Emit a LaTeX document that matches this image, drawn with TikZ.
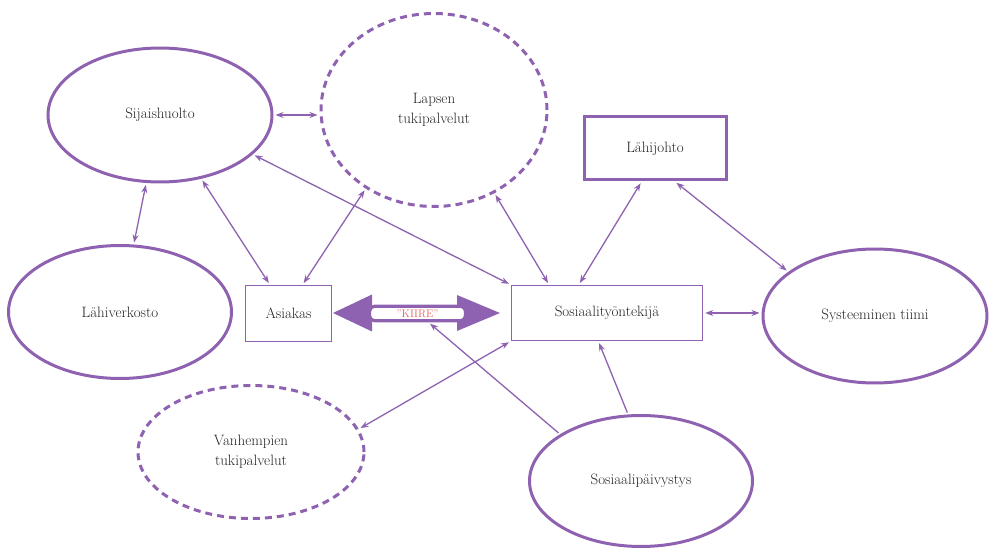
\documentclass[tikz,border=0pt]{standalone}
\usetikzlibrary{shapes.geometric,arrows.meta}
\definecolor{vio}{RGB}{142,98,176}
\definecolor{kred}{RGB}{228,96,96}
\definecolor{txt}{RGB}{35,35,35}
\begin{document}
\begin{tikzpicture}[x=1pt,y=-1pt,
  lab/.style={font=\fontsize{15}{20}\selectfont, text=txt, align=center, inner sep=0pt},
  ell/.style={lab, ellipse, draw=vio, line width=3pt},
  dell/.style={ell, dash pattern=on 7pt off 5pt},
  thickbox/.style={lab, rectangle, draw=vio, line width=3pt},
  thinbox/.style={lab, rectangle, draw=vio, line width=1.5pt},
  conn/.style={draw=vio, line width=1.3pt, shorten <=2pt, shorten >=2pt},
  biarr/.style={conn, {Stealth[length=8pt,width=6pt]}-{Stealth[length=8pt,width=6pt]}},
  uniarr/.style={conn, -{Stealth[length=8pt,width=6pt]}}
]
\useasboundingbox (0,0) rectangle (989,548);

\node[ell, minimum width=224pt, minimum height=134pt] (sij) at (160,115) {Sijaishuolto};
\node[dell, minimum width=226pt, minimum height=193pt] (lap) at (434,110) {Lapsen\\tukipalvelut};
\node[thickbox, minimum width=142pt, minimum height=63pt] (lah) at (655,148.5) {Lähijohto};
\node[ell, minimum width=223pt, minimum height=133pt] (ver) at (120,312) {Lähiverkosto};
\node[thinbox, minimum width=86pt, minimum height=56pt] (asi) at (288.5,313.5) {Asiakas};
\node[thinbox, minimum width=191pt, minimum height=55pt] (sos) at (607,313) {Sosiaalityöntekijä};
\node[ell, minimum width=224pt, minimum height=134pt] (sys) at (875,316) {Systeeminen tiimi};
\node[dell, minimum width=226pt, minimum height=133pt] (van) at (251,452) {Vanhempien\\tukipalvelut};
\node[ell, minimum width=223pt, minimum height=131pt] (paiv) at (641,481) {Sosiaalipäivystys};

% KIIRE double arrow
\fill[vio] (333,313) -- (372,294.5) -- (372,331.5) -- cycle;
\fill[vio] (500,313) -- (457,295) -- (457,331) -- cycle;
\node[draw=vio, line width=3.2pt, fill=white, rounded corners=5pt,
      minimum width=96pt, minimum height=14.5pt, inner sep=0pt,
      font=\fontsize{11}{12}\selectfont, text=kred] (kiire) at (417.5,313.5) {”KIIRE”};

% connectors
\draw[biarr] (sij.east) -- (sij.east -| lap.west);
\draw[biarr] (sij) -- (ver);
\draw[biarr] (sij) -- (asi);
\draw[biarr] (sij.-23) -- (sos.north west);
\draw[biarr] (lap.229) -- (asi.64);
\draw[biarr] (lap.-54) -- (sos.154);
\draw[biarr] (lah.248) -- (sos.135);
\draw[biarr] (lah.-59) -- (sys.153);
\draw[biarr] (sos.east) -- (sos.east -| sys.west);
\draw[biarr] (van.12) -- (sos.south west);
\draw[uniarr] (paiv.150) -- ([xshift=11pt]kiire.south);
\draw[uniarr] (paiv.101) -- (sos.-107);
\end{tikzpicture}
\end{document}
